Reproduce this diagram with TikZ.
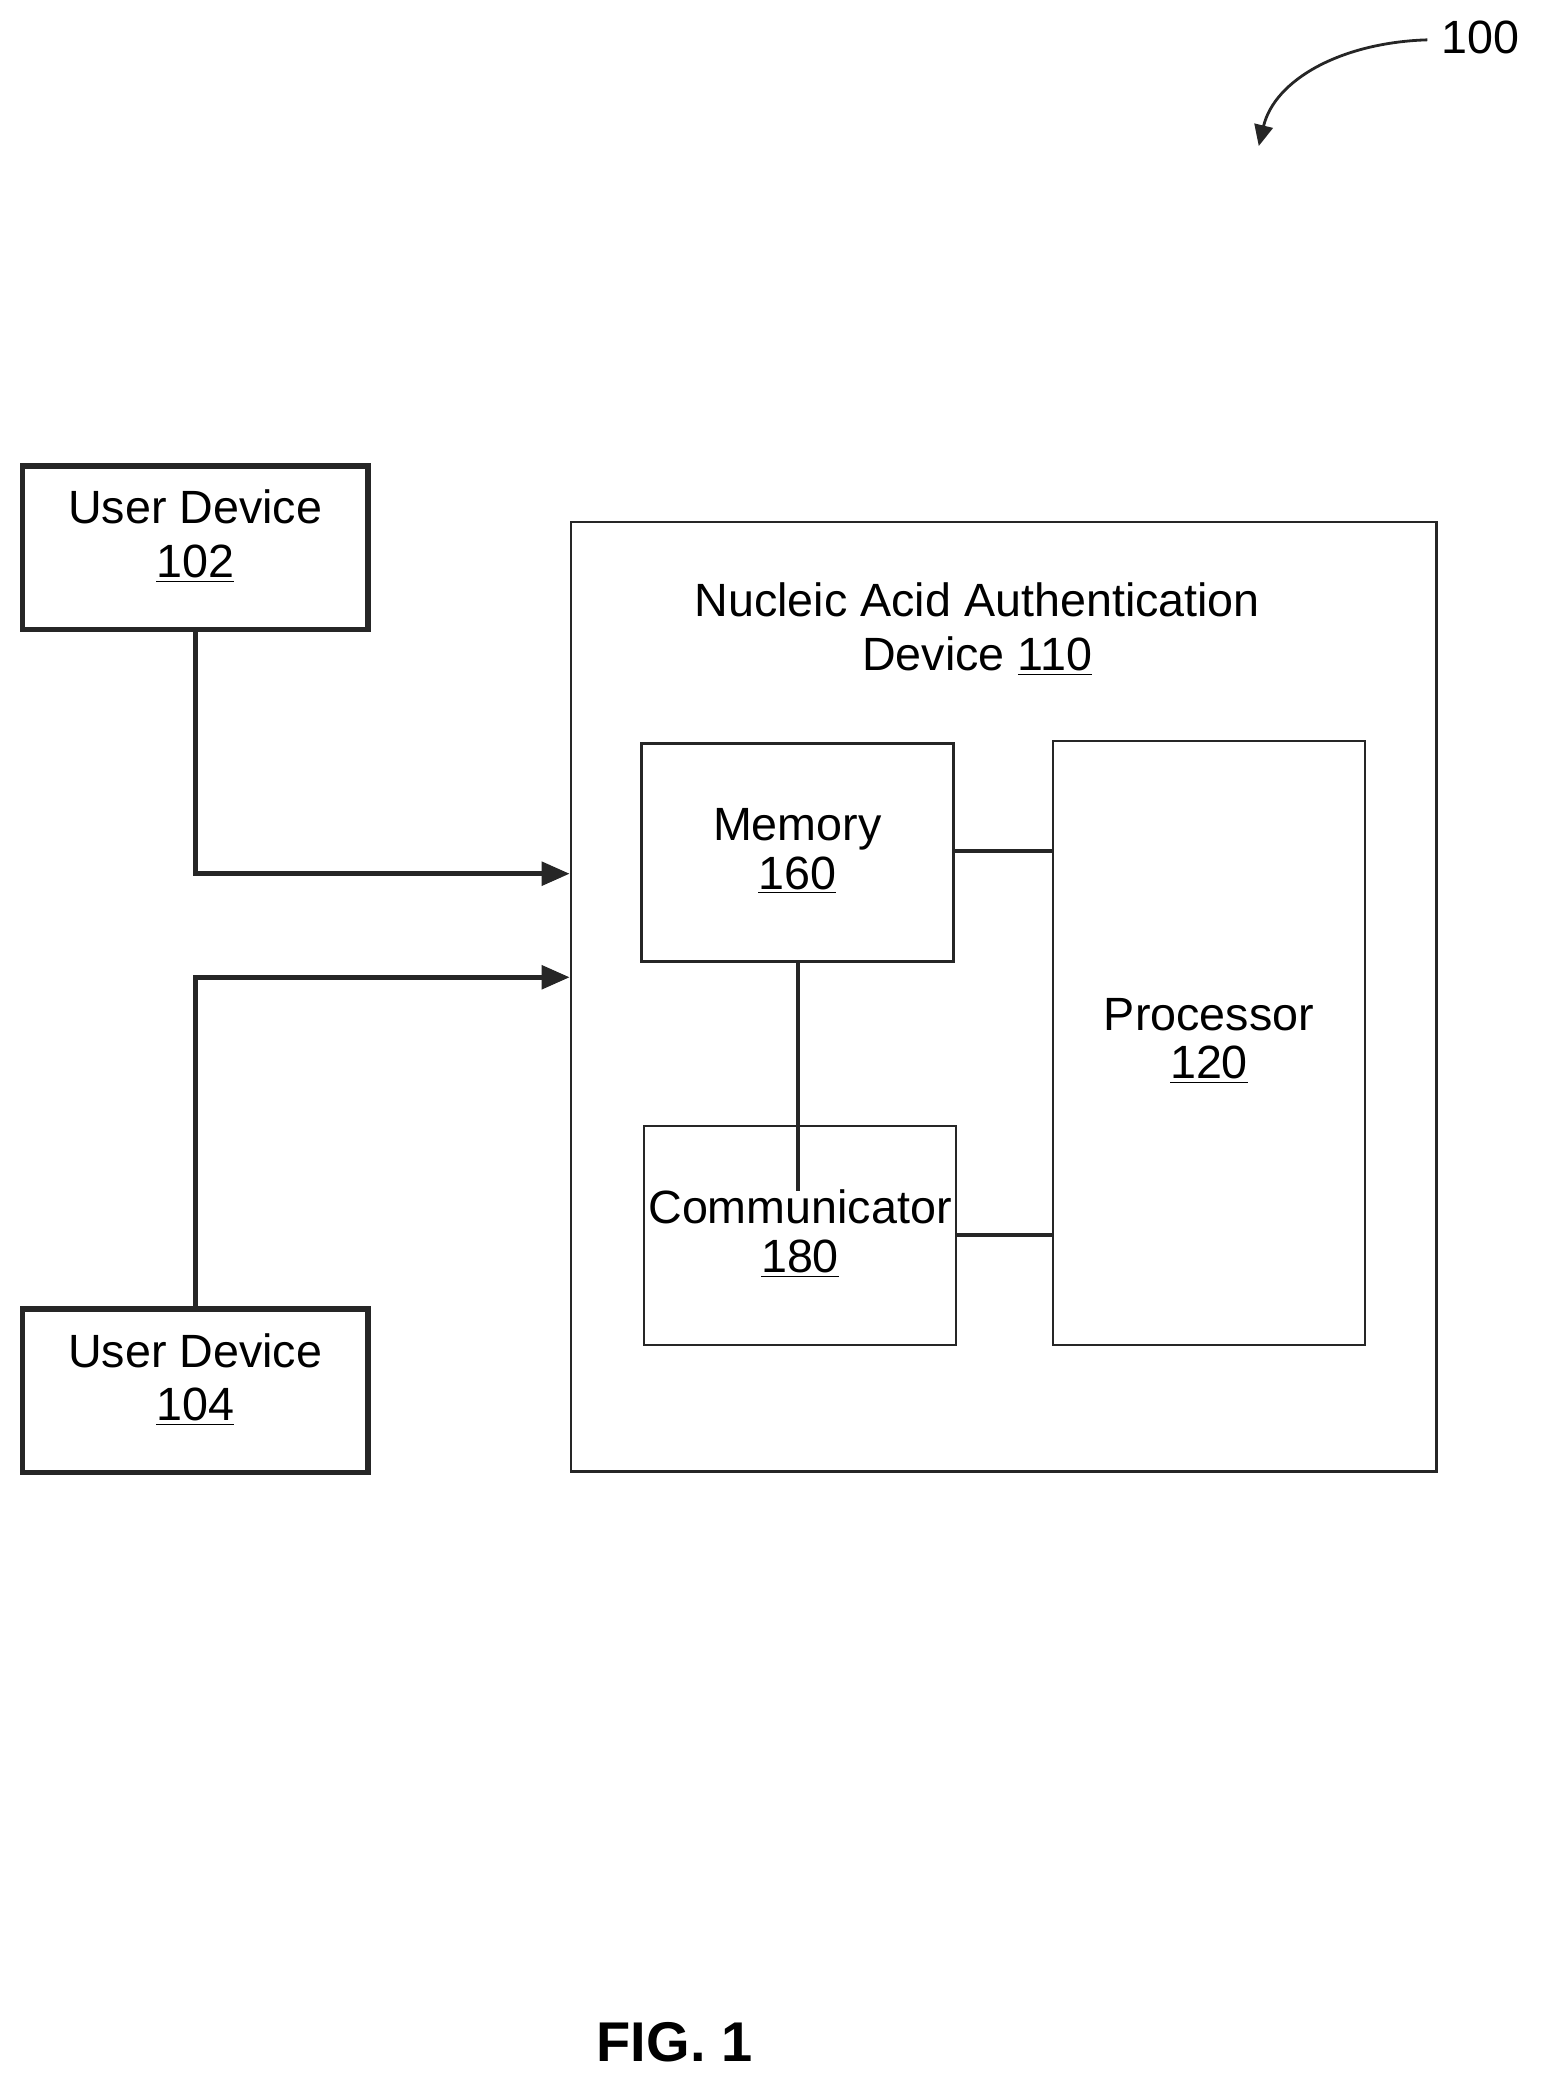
\documentclass[tikz,border=0pt]{standalone}
\usepackage{fontspec}
\setmainfont{Liberation Sans}
\usetikzlibrary{arrows.meta}
\tikzset{
  box/.style={draw=black!85,line width=1.2pt,inner sep=0pt},
  userbox/.style={box,line width=2.4pt,minimum width=5.2cm,minimum height=2.46cm},
  lbl/.style={font=\fontsize{20}{24}\selectfont,align=center,inner sep=0pt},
  link/.style={draw=black!85,line width=2pt},
  arr/.style={link,-{Triangle[length=12pt,width=10pt]}}
}
\newcommand{\refnum}[1]{\underline{#1}}
\begin{document}
\begin{tikzpicture}[x=0.02cm,y=-0.02cm]
\useasboundingbox (0,0) rectangle (1160,1568);
% user devices
\node[userbox] (ud1) at (147,412.5) {};
\node[lbl] at (147,404) {User Device\\[-1pt]\refnum{102}};
\node[userbox] (ud2) at (147,1047.5) {};
\node[lbl] at (147,1039) {User Device\\[-1pt]\refnum{104}};
% authentication device
\node[box,minimum width=13.04cm,minimum height=14.3cm] (nad) at (756,750.5) {};
\node[lbl] at (736,474) {Nucleic Acid Authentication\\[-1pt]Device \refnum{110}};
\node[box,minimum width=4.7cm,minimum height=3.28cm] (mem) at (600.5,642) {};
\node[lbl] at (600.5,641) {Memory\\[-3pt]\refnum{160}};
\node[box,minimum width=4.7cm,minimum height=3.3cm] (com) at (602.5,930.5) {};
\node[lbl] at (602.5,929) {Communicator\\[-3pt]\refnum{180}};
\node[box,minimum width=4.7cm,minimum height=9.1cm] (proc) at (910.5,785.5) {};
\node[lbl] at (910.5,784) {Processor\\[-3pt]\refnum{120}};
% connectors
\draw[arr] (ud1.south) |- (nad.west |- 0,658);
\draw[arr] (ud2.north) |- (nad.west |- 0,736);
\draw[link] (mem.east |- 0,641) -- (proc.west |- 0,641);
\draw[link] (com.east |- 0,930) -- (proc.west |- 0,930);
\coordinate (comtop) at (601,897);
\draw[link] (mem.south -| 601,0) -- (comtop);
% reference label
\node[lbl] (fig) at (1115,28) {100};
\coordinate (figtip) at (948,110);
\draw[draw=black!85,line width=1.2pt,-{Triangle[length=9pt,width=8pt]}] (1075,30) .. controls (1010,32) and (960,60) .. (figtip);
\node[lbl,font=\fontsize{24}{28}\selectfont\bfseries] (cap) at (508,1538) {FIG. 1};
\end{tikzpicture}
\end{document}
